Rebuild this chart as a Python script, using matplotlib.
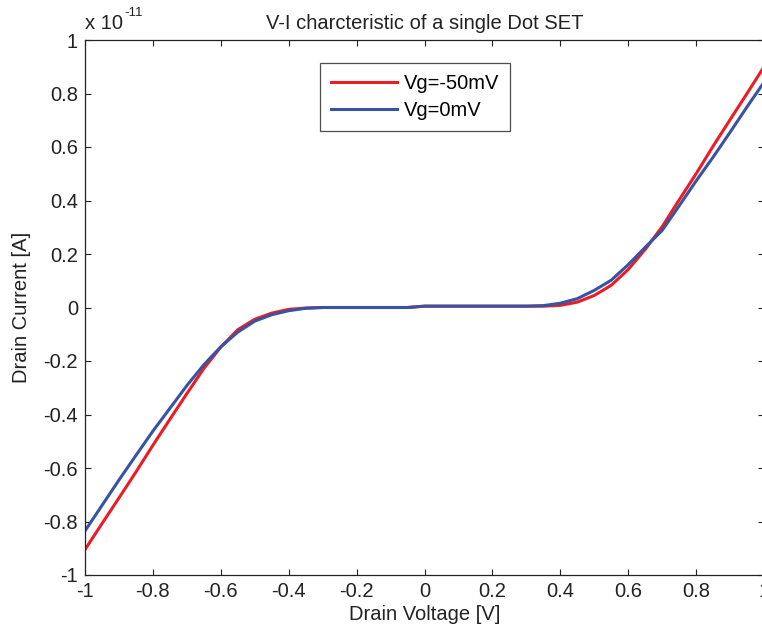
import matplotlib
matplotlib.use("Agg")
import matplotlib.pyplot as plt

plt.rcParams['font.family'] = ['Liberation Sans', 'DejaVu Sans']

# Drain voltage [V]
voltage = [-1.00, -0.95, -0.90, -0.85, -0.80, -0.75, -0.70, -0.65, -0.60, -0.55,
           -0.50, -0.45, -0.40, -0.35, -0.30, -0.25, -0.20, -0.15, -0.10, -0.05,
           0.00, 0.05, 0.10, 0.15, 0.20, 0.25, 0.30, 0.35, 0.40, 0.45,
           0.50, 0.55, 0.60, 0.65, 0.70, 0.75, 0.80, 0.85, 0.90, 0.95, 1.00]

# Drain current [x 1e-11 A]
current_vg_m50 = [-0.905, -0.808, -0.712, -0.615, -0.515, -0.418, -0.322, -0.228, -0.148, -0.083,
                  -0.044, -0.021, -0.007, -0.002, 0.000, 0.000, 0.000, 0.000, 0.000, 0.000,
                  0.005, 0.005, 0.005, 0.005, 0.005, 0.005, 0.005, 0.005, 0.008, 0.020,
                  0.045, 0.083, 0.142, 0.217, 0.302, 0.402, 0.500, 0.603, 0.702, 0.800, 0.900]

current_vg_0 = [-0.835, -0.740, -0.645, -0.553, -0.462, -0.377, -0.292, -0.214, -0.147, -0.092,
                -0.051, -0.027, -0.012, -0.003, 0.000, 0.000, 0.000, 0.000, 0.000, 0.000,
                0.005, 0.005, 0.005, 0.005, 0.005, 0.005, 0.005, 0.007, 0.016, 0.033,
                0.064, 0.102, 0.160, 0.225, 0.288, 0.380, 0.473, 0.562, 0.655, 0.750, 0.842]

labels = ['Vg=-50mV', 'Vg=0mV']
ticks = [-1, -0.8, -0.6, -0.4, -0.2, 0, 0.2, 0.4, 0.6, 0.8, 1]
tick_labels = ['-1', '-0.8', '-0.6', '-0.4', '-0.2', '0', '0.2', '0.4', '0.6', '0.8', '1']

W, H = 762, 637
fig = plt.figure(figsize=(W / 100, H / 100), dpi=100)
ax = fig.add_axes([85 / W, 1 - 575 / H, (764 - 85) / W, (575 - 40) / H])

fs = 14.5
ax.plot(voltage, current_vg_m50, color='#ED1C24', lw=2.2, label=labels[0])
ax.plot(voltage, current_vg_0, color='#3653A4', lw=2.2, label=labels[1])

ax.set_xlim(-1, 1)
ax.set_ylim(-1, 1)
ax.set_xticks(ticks)
ax.set_xticklabels(tick_labels)
ax.set_yticks(ticks)
ax.set_yticklabels(tick_labels)
ax.tick_params(direction='in', top=True, right=True, length=4, width=0.8,
               labelsize=fs, pad=5, colors='#222222')
for s in ax.spines.values():
    s.set_linewidth(0.9)
    s.set_color('#222222')

ax.set_title('V-I charcteristic of a single Dot SET', fontsize=fs, pad=8, color='#222222')
ax.set_xlabel('Drain Voltage [V]', fontsize=fs, labelpad=3, color='#222222')
ax.set_ylabel('Drain Current [A]', fontsize=fs, labelpad=9, color='#222222')

# MATLAB-style exponent label
fig.text(85 / W, 1 - 29 / H, 'x 10', fontsize=fs, ha='left', va='baseline', color='#222222')
fig.text(124 / W, 1 - 16 / H, '-11', fontsize=9.5, ha='left', va='baseline', color='#222222')

leg = ax.legend(loc='upper left', bbox_to_anchor=(320 / W, 1 - 63 / H),
                bbox_transform=fig.transFigure, fontsize=fs, frameon=True,
                fancybox=False, handlelength=3.25, handletextpad=0.35,
                labelspacing=0.4, borderpad=0.55, borderaxespad=0)
leg.get_frame().set_edgecolor('#222222')
leg.get_frame().set_linewidth(0.9)

fig.savefig('out.png', dpi=100)
